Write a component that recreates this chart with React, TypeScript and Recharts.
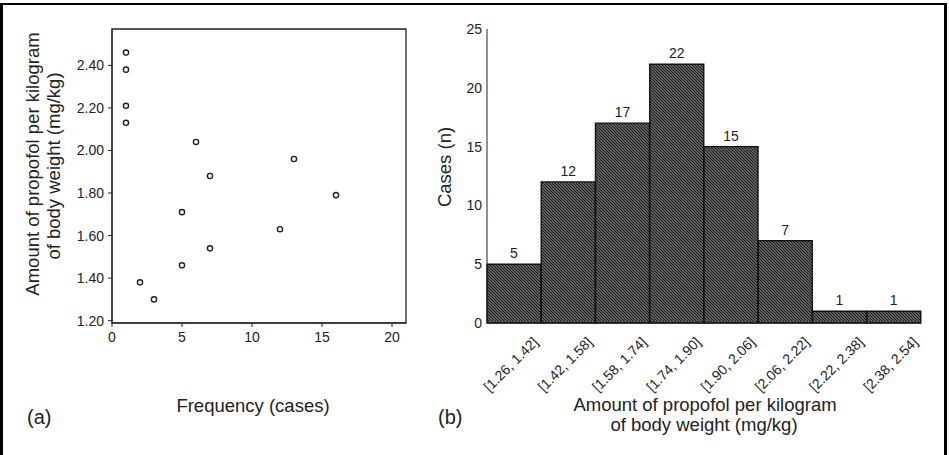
import React from "react";
import {
  ScatterChart,
  Scatter,
  BarChart,
  Bar,
  XAxis,
  YAxis,
  ReferenceArea,
  LabelList,
} from "recharts";

// (a) scatter: frequency vs dose
const frequencies = [1, 1, 1, 1, 6, 13, 7, 16, 5, 12, 7, 5, 2, 3];
const doses = [2.46, 2.38, 2.21, 2.13, 2.04, 1.96, 1.88, 1.79, 1.71, 1.63, 1.54, 1.46, 1.38, 1.3];
const freqTicks = [0, 5, 10, 15, 20];
const doseTicks = [1.2, 1.4, 1.6, 1.8, 2.0, 2.2, 2.4];

// (b) histogram
const binLabels = [
  "[1.26, 1.42]",
  "[1.42, 1.58]",
  "[1.58, 1.74]",
  "[1.74, 1.90]",
  "[1.90, 2.06]",
  "[2.06, 2.22]",
  "[2.22, 2.38]",
  "[2.38, 2.54]",
];
const binCounts = [5, 12, 17, 22, 15, 7, 1, 1];
const caseTicks = [0, 5, 10, 15, 20, 25];

const scatterData = frequencies.map((f, i) => ({ freq: f, dose: doses[i] }));
const histData = binLabels.map((b, i) => ({ bin: b, cases: binCounts[i] }));

const FONT = "'Liberation Sans', Arial, Helvetica, sans-serif";
const INK = "#222";

const OpenDot = (props: any) => (
  <circle cx={props.cx} cy={props.cy} r={2.6} fill="#fff" stroke={INK} strokeWidth={1.4} />
);

const SlantTick = (props: any) => {
  const { x, y, payload } = props;
  return (
    <text
      transform={`translate(${x + 25},${y + 12}) rotate(-45)`}
      textAnchor="end"
      fontSize={14}
      fill={INK}
      fontFamily={FONT}
    >
      {payload.value}
    </text>
  );
};

const App = () => {
  return (
    <div style={{ position: "absolute", left: 0, top: 0, width: 949, height: 455, background: "#fff", overflow: "hidden", fontFamily: FONT }}>
      {/* frame (bottom edge is cut off in the original) */}
      <div
        style={{
          position: "absolute",
          left: 0,
          top: 3,
          width: 947,
          height: 470,
          boxSizing: "border-box",
          borderLeft: "3px solid #000",
          borderRight: "3px solid #000",
          borderTop: "2px solid #000",
        }}
      />

      {/* Panel (a) */}
      <div style={{ position: "absolute", left: 0, top: 0 }}>
        <ScatterChart width={420} height={455} margin={{ top: 29, right: 14, left: 0, bottom: 102 }}>
          <XAxis
            type="number"
            dataKey="freq"
            domain={[0, 21]}
            ticks={freqTicks}
            height={30}
            allowDataOverflow
            stroke={INK}
            tickSize={4}
            tickMargin={5}
            tick={{ fontSize: 14, fill: INK, fontFamily: FONT }}
          />
          <YAxis
            type="number"
            dataKey="dose"
            domain={[1.189, 2.571]}
            ticks={doseTicks}
            width={112}
            allowDataOverflow
            stroke={INK}
            tickSize={4}
            tickMargin={4}
            tickFormatter={(v: number) => v.toFixed(2)}
            tick={{ fontSize: 14, fill: INK, fontFamily: FONT }}
          />
          <ReferenceArea x1={0} x2={21} y1={1.189} y2={2.571} fill="none" stroke={INK} strokeWidth={1.3} />
          <Scatter data={scatterData} shape={OpenDot} isAnimationActive={false} />
        </ScatterChart>
      </div>

      {/* Panel (b) */}
      <div style={{ position: "absolute", left: 420, top: 0 }}>
        <BarChart width={529} height={455} data={histData} barCategoryGap={0} margin={{ top: 29, right: 28, left: 0, bottom: 102 }}>
          <defs>
            <pattern id="hatch" patternUnits="userSpaceOnUse" width={3} height={3}>
              <rect width={3} height={3} fill="#9c9c9c" />
              <path d="M0,0 L3,3 M-1,2 L1,4 M2,-1 L4,1" stroke="#161616" strokeWidth={1.25} />
            </pattern>
          </defs>
          <XAxis dataKey="bin" height={30} stroke={INK} tickLine={false} interval={0} tick={<SlantTick />} />
          <YAxis
            type="number"
            domain={[0, 25]}
            ticks={caseTicks}
            width={67}
            stroke={INK}
            tickLine={false}
            tickSize={3}
            tickMargin={2}
            tick={{ fontSize: 14, fill: INK, fontFamily: FONT }}
          />
          <Bar dataKey="cases" fill="url(#hatch)" stroke="#111" strokeWidth={1.4} isAnimationActive={false}>
            <LabelList dataKey="cases" position="top" offset={6} fontSize={14} fill={INK} fontFamily={FONT} />
          </Bar>
        </BarChart>
      </div>

      {/* titles */}
      <svg width={949} height={455} style={{ position: "absolute", left: 0, top: 0, pointerEvents: "none" }} fontFamily={FONT} fill={INK}>
        <text transform="translate(39,164) rotate(-90)" textAnchor="middle" fontSize={18.5}>
          Amount of propofol per kilogram
        </text>
        <text transform="translate(60,166) rotate(-90)" textAnchor="middle" fontSize={18.5}>
          of body weight (mg/kg)
        </text>
        <text x={253} y={412} textAnchor="middle" fontSize={18.5}>
          Frequency (cases)
        </text>
        <text x={27} y={424} fontSize={20}>
          (a)
        </text>

        <text transform="translate(451,167) rotate(-90)" textAnchor="middle" fontSize={18.5}>
          Cases (n)
        </text>
        <text x={705} y={411} textAnchor="middle" fontSize={18.5}>
          Amount of propofol per kilogram
        </text>
        <text x={704} y={431} textAnchor="middle" fontSize={18.5}>
          of body weight (mg/kg)
        </text>
        <text x={438} y={424} fontSize={20}>
          (b)
        </text>
      </svg>
    </div>
  );
};

export default App;
